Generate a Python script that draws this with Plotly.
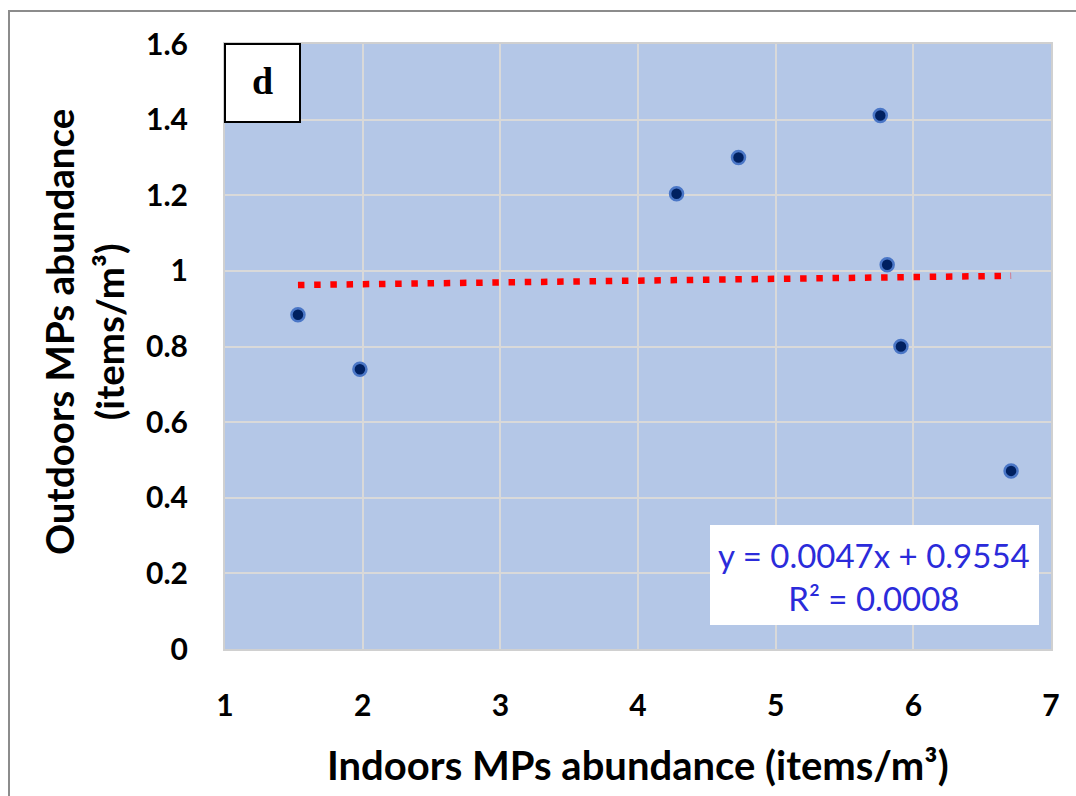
import plotly.graph_objects as go

# Data
indoor = [1.53, 1.98, 4.28, 4.73, 5.76, 5.81, 5.91, 6.71]
outdoor = [0.884, 0.740, 1.204, 1.300, 1.411, 1.016, 0.800, 0.471]
slope = 0.0047
intercept = 0.9554
eq_text = "y = 0.0047x + 0.9554<br>R² = 0.0008"
panel_label = "d"
x_title = "Indoors MPs abundance (items/m³)"
y_title = "Outdoors MPs abundance<br>(items/m³)"
x_ticks = [1, 2, 3, 4, 5, 6, 7]
y_ticks = [0, 0.2, 0.4, 0.6, 0.8, 1.0, 1.2, 1.4, 1.6]
y_tick_text = ["0", "0.2", "0.4", "0.6", "0.8", "1", "1.2", "1.4", "1.6"]

W, H = 1076, 796
ML, MR, MT, MB = 225, 25, 44, 147
PW, PH = W - ML - MR, H - MT - MB


def px(xp):
    return (xp - ML) / PW


def py(yp):
    return (H - MB - yp) / PH


trend_x = [min(indoor), max(indoor)]
trend_y = [slope * v + intercept for v in trend_x]

fig = go.Figure()
fig.add_trace(go.Scatter(
    x=trend_x, y=trend_y, mode="lines",
    line=dict(color="#FF0000", width=6.5, dash="6.5px,9.7px"),
    hoverinfo="skip", showlegend=False))
fig.add_trace(go.Scatter(
    x=indoor, y=outdoor, mode="markers",
    marker=dict(size=13, color="#002060", line=dict(color="#4A76C6", width=2.5)),
    showlegend=False))

font_main = "Lato, 'Open Sans', sans-serif"

fig.update_layout(
    width=W, height=H,
    margin=dict(l=ML, r=MR, t=MT, b=MB),
    paper_bgcolor="white",
    plot_bgcolor="#B4C7E7",
    font=dict(family=font_main, color="black"),
    xaxis=dict(range=[1, 7], tickvals=x_ticks, showgrid=True, gridcolor="#D9D9D9",
               gridwidth=2, zeroline=False, showline=True, linecolor="#D0D0D0",
               linewidth=2, mirror=True, ticks="", ticklabelstandoff=29,
               tickfont=dict(size=30, family=font_main, weight="bold")),
    yaxis=dict(range=[0, 1.6], tickvals=y_ticks, ticktext=y_tick_text, showgrid=True,
               gridcolor="#D9D9D9", gridwidth=2, zeroline=False, showline=True,
               linecolor="#D0D0D0", linewidth=2, mirror=True, ticks="",
               ticklabelstandoff=29,
               tickfont=dict(size=30, family=font_main, weight="bold")),
    shapes=[
        dict(type="rect", xref="paper", yref="paper",
             x0=px(9), x1=px(W + 20), y0=py(H + 20), y1=py(11),
             line=dict(color="#8C8C8C", width=2), fillcolor="rgba(0,0,0,0)", layer="below"),
        dict(type="rect", xref="paper", yref="paper",
             x0=px(225), x1=px(300), y0=py(122), y1=py(44),
             line=dict(color="black", width=2), fillcolor="white"),
        dict(type="rect", xref="paper", yref="paper",
             x0=px(710), x1=px(1039), y0=py(625), y1=py(525),
             line=dict(width=0), fillcolor="white"),
    ],
    annotations=[
        dict(text=panel_label, xref="paper", yref="paper", x=px(262), y=py(81),
             showarrow=False, xanchor="center", yanchor="middle",
             font=dict(family="'Liberation Serif', 'Times New Roman', serif", size=38,
                       color="black", weight="bold")),
        dict(text=eq_text, xref="paper", yref="paper", x=px(874), y=py(576),
             showarrow=False, xanchor="center", yanchor="middle", align="center",
             font=dict(family=font_main, size=33, color="#2B2BDA")),
        dict(text=x_title, xref="paper", yref="paper", x=px(638), y=py(765),
             showarrow=False, xanchor="center", yanchor="middle",
             font=dict(family=font_main, size=40, color="black", weight="bold")),
        dict(text=y_title, xref="paper", yref="paper", x=px(84), y=py(332),
             showarrow=False, xanchor="center", yanchor="middle", textangle=-90,
             align="center",
             font=dict(family=font_main, size=38.5, color="black", weight="bold")),
    ],
)

fig.write_html("out.html")
